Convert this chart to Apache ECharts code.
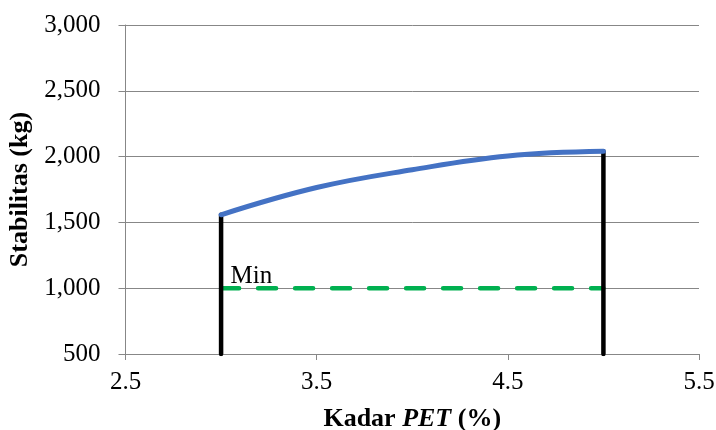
<!DOCTYPE html>
<html>
<head>
<meta charset="utf-8">
<script src="https://cdn.jsdelivr.net/npm/echarts@6/dist/echarts.min.js"></script>
<style>
  html, body { margin: 0; padding: 0; background: #fff; }
  #chart { width: 716px; height: 430px; }
</style>
</head>
<body>
<div id="chart"></div>
<script>
// Stability (kg) against PET content (%)
const petContent = [3, 3.5, 4, 4.5, 5];
const stability = [1558, 1765, 1900, 2005, 2040];

// Minimum stability requirement
const minLimitX = [3, 5];
const minLimit = 1000;
const minLabel = 'Min';

// Boundaries of the tested PET range
const boundaryLow = [[3, 500], [3, 1558]];
const boundaryHigh = [[5, 500], [5, 2040]];

const xTicks = { min: 2.5, max: 5.5, interval: 1 };
const yTicks = { min: 500, max: 3000, interval: 500 };

const serif = '"Liberation Serif", "Times New Roman", serif';
const gridColor = '#878787';

const chart = echarts.init(document.getElementById('chart'));
chart.setOption({
  animation: false,
  grid: { left: 125.5, right: 17, top: 25, bottom: 76, containLabel: false, outerBoundsMode: 'none' },
  xAxis: {
    type: 'value',
    min: xTicks.min, max: xTicks.max, interval: xTicks.interval,
    name: 'Kadar {i|PET} (%)',
    nameLocation: 'middle',
    nameGap: 52,
    nameTextStyle: {
      fontFamily: serif, fontSize: 26, fontWeight: 'bold', color: '#000',
      rich: { i: { fontFamily: serif, fontSize: 26, fontWeight: 'bold', fontStyle: 'italic', color: '#000' } }
    },
    axisLine: { show: true, onZero: false, lineStyle: { color: gridColor, width: 1 } },
    axisTick: { show: true, length: 6, lineStyle: { color: gridColor } },
    axisLabel: { fontFamily: serif, fontSize: 25, color: '#000', margin: 16,
      formatter: v => v.toFixed(1) },
    splitLine: { show: false }
  },
  yAxis: {
    type: 'value',
    min: yTicks.min, max: yTicks.max, interval: yTicks.interval,
    name: 'Stabilitas (kg)',
    nameLocation: 'middle',
    nameGap: 82,
    nameTextStyle: { fontFamily: serif, fontSize: 26, fontWeight: 'bold', color: '#000' },
    axisLine: { show: true, onZero: false, lineStyle: { color: gridColor, width: 1 } },
    axisTick: { show: true, length: 7, lineStyle: { color: gridColor } },
    axisLabel: { fontFamily: serif, fontSize: 25, color: '#000', margin: 25,
      formatter: v => v.toLocaleString('en-US') },
    splitLine: { show: true, lineStyle: { color: gridColor, width: 1 } }
  },
  series: [
    {
      type: 'line',
      data: minLimitX.map(x => [x, minLimit]),
      showSymbol: false,
      lineStyle: { color: '#00B050', width: 4.5, type: [18, 19], cap: 'round' },
      z: 3
    },
    {
      type: 'line',
      data: boundaryLow,
      showSymbol: false,
      lineStyle: { color: '#000', width: 4.5, cap: 'round' },
      z: 4
    },
    {
      type: 'line',
      data: boundaryHigh,
      showSymbol: false,
      lineStyle: { color: '#000', width: 4.5, cap: 'round' },
      z: 4
    },
    {
      type: 'line',
      data: petContent.map((x, i) => [x, stability[i]]),
      smooth: 0.4,
      showSymbol: false,
      lineStyle: { color: '#4472C4', width: 5, cap: 'round' },
      z: 5
    },
    {
      type: 'scatter',
      data: [[minLimitX[0], minLimit]],
      symbolSize: 1,
      itemStyle: { color: 'rgba(0,0,0,0)' },
      label: {
        show: true, formatter: minLabel, position: [10, -24],
        fontFamily: serif, fontSize: 25, color: '#000', opacity: 1
      },
      z: 6
    }
  ]
});
</script>
</body>
</html>
